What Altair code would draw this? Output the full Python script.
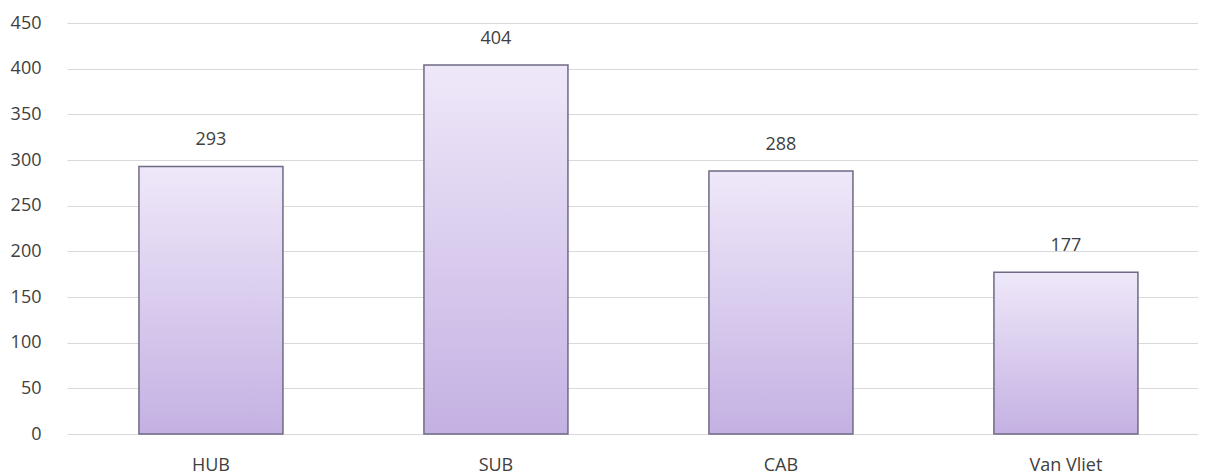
import altair as alt
import pandas as pd

categories = ["HUB", "SUB", "CAB", "Van Vliet"]
values = [293, 404, 288, 177]

df = pd.DataFrame({"cat": categories, "val": values})

FONT = "Open Sans"

grad = alt.Gradient(
    gradient="linear", x1=0, y1=0, x2=0, y2=1,
    stops=[alt.GradientStop(color="#efe8f9", offset=0),
           alt.GradientStop(color="#c4b1e3", offset=1)],
)

x = alt.X("cat:N", sort=categories, title=None,
          scale=alt.Scale(paddingInner=0.4947, paddingOuter=0.2316, align=0.545),
          axis=alt.Axis(labelAngle=0, ticks=False, domain=False, grid=False,
                        labelPadding=22, labelFont=FONT, labelFontSize=18,
                        labelColor="#404040"))
y = alt.Y("val:Q", title=None,
          scale=alt.Scale(domain=[0, 450]),
          axis=alt.Axis(values=list(range(0, 451, 50)), ticks=False, domain=False,
                        gridColor="#d9d9d9", gridWidth=1.2, labelPadding=26,
                        labelFont=FONT, labelFontSize=18, labelColor="#404040"))

bars = alt.Chart(df).mark_bar(fill=grad, stroke="#6f6a86", strokeWidth=1.5).encode(x=x, y=y)
labels = alt.Chart(df).mark_text(baseline="bottom", dy=-17, font=FONT, fontSize=18,
                                 color="#404040").encode(x=x, y=y, text="val:Q")

chart = (bars + labels).properties(
    width=1131, height=411,
    autosize=alt.AutoSizeParams(type="none"),
    padding={"left": 59, "top": 15, "right": 0, "bottom": 42},
).configure_view(stroke=None)

chart.save("out.html", embed_options={"renderer": "svg", "actions": False})
